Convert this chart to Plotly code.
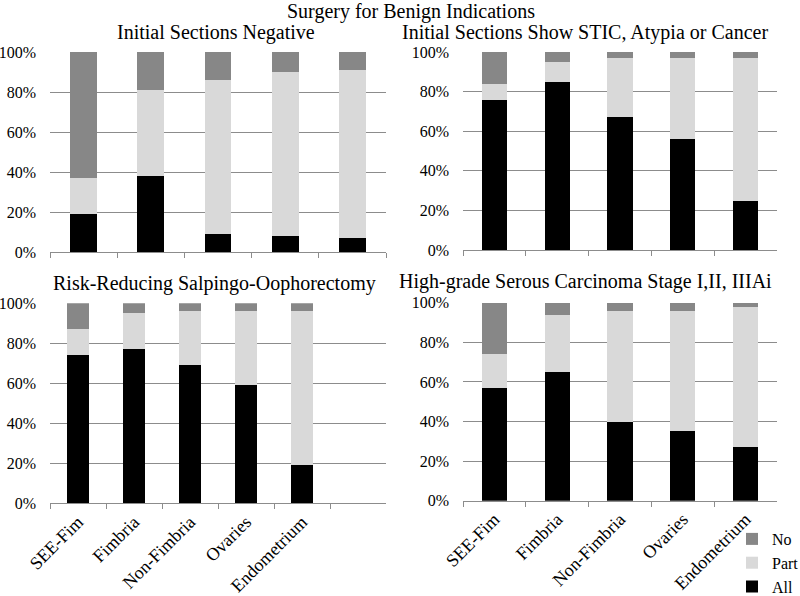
import plotly.graph_objects as go

categories = ["SEE-Fim", "Fimbria", "Non-Fimbria", "Ovaries", "Endometrium"]

main_title = "Surgery for Benign Indications"
panel_titles = [
    "Initial Sections Negative",
    "Initial Sections Show STIC, Atypia or Cancer",
    "Risk-Reducing Salpingo-Oophorectomy",
    "High-grade Serous Carcinoma Stage I,II, IIIAi",
]

# Percent of cases: All / Part / No
neg_all = [19, 38, 9, 8, 7]
neg_part = [18, 43, 77, 82, 84]
neg_no = [63, 19, 14, 10, 9]

stic_all = [76, 85, 67, 56, 25]
stic_part = [8, 10, 30, 41, 72]
stic_no = [16, 5, 3, 3, 3]

rrso_all = [74, 77, 69, 59, 19]
rrso_part = [13, 18, 27, 37, 77]
rrso_no = [13, 5, 4, 4, 4]

hgsc_all = [57, 65, 40, 35, 27]
hgsc_part = [17, 29, 56, 61, 71]
hgsc_no = [26, 6, 4, 4, 2]

y_ticks = [0, 20, 40, 60, 80, 100]
y_tick_labels = ["0%", "20%", "40%", "60%", "80%", "100%"]

colors = {"All": "#000000", "Part": "#d9d9d9", "No": "#878787"}
FONT = "Liberation Serif, Times New Roman, serif"
W, H = 800, 596

panels = [
    (neg_all, neg_part, neg_no),
    (stic_all, stic_part, stic_no),
    (rrso_all, rrso_part, rrso_no),
    (hgsc_all, hgsc_part, hgsc_no),
]

# pixel boxes: (x0, x1, ytop, ybottom)
boxes = [
    (50, 386, 52, 252),
    (463, 777, 52, 250),
    (50, 386, 303.3, 503.3),
    (463, 777, 302.7, 500.7),
]
title_pos = [(216, 33), (585, 33), (214, 283), (585, 281)]

fig = go.Figure()
for i, (a, p, n) in enumerate(panels):
    sfx = "" if i == 0 else str(i + 1)
    for name, vals in (("All", a), ("Part", p), ("No", n)):
        fig.add_trace(go.Bar(
            x=categories, y=vals, name=name,
            marker=dict(color=colors[name], line=dict(width=0)),
            xaxis="x" + sfx, yaxis="y" + sfx,
            legendgroup=name, showlegend=(i == 0),
        ))

layout = dict(
    width=W, height=H, autosize=False,
    margin=dict(l=0, r=0, t=0, b=0, autoexpand=False),
    barmode="stack", bargap=0.6,
    plot_bgcolor="white", paper_bgcolor="white",
    font=dict(family=FONT, size=16, color="#000000"),
    legend=dict(x=732 / W, y=1 - 522 / H, xanchor="left", yanchor="top",
                xref="container", yref="container",
                traceorder="reversed", font=dict(family=FONT, size=16),
                bgcolor="rgba(0,0,0,0)", tracegroupgap=0),
    annotations=[],
)

for i, (x0, x1, yt, yb) in enumerate(boxes):
    sfx = "" if i == 0 else str(i + 1)
    bottom = i >= 2
    xrange = [-0.5, 5.5] if i == 2 else [-0.5, 4.5]
    layout["xaxis" + sfx] = dict(
        domain=[x0 / W, x1 / W], anchor="y" + sfx,
        type="category", categoryorder="array", categoryarray=categories,
        range=xrange, showline=True, linecolor="#8c8c8c", linewidth=1,
        ticks="outside", tickson="boundaries", ticklen=5, tickcolor="#8c8c8c",
        showgrid=False, showticklabels=bottom, tickangle=-45,
        tickfont=dict(family=FONT, size=18), automargin=False, fixedrange=True,
    )
    layout["yaxis" + sfx] = dict(
        domain=[1 - yb / H, 1 - yt / H], anchor="x" + sfx,
        range=[0, 100], tickvals=y_ticks, ticktext=y_tick_labels,
        showgrid=True, gridcolor="#8c8c8c", gridwidth=1, zeroline=False,
        showline=False, ticks="", ticklabelstandoff=13,
        tickfont=dict(family=FONT, size=16), automargin=False, fixedrange=True,
    )
    tx, ty = title_pos[i]
    layout["annotations"].append(dict(
        text=panel_titles[i], x=tx / W, y=1 - ty / H, xref="paper", yref="paper",
        xanchor="center", yanchor="middle", showarrow=False,
        font=dict(family=FONT, size=20),
    ))

layout["annotations"].append(dict(
    text=main_title, x=411 / W, y=1 - 12 / H, xref="paper", yref="paper",
    xanchor="center", yanchor="middle", showarrow=False,
    font=dict(family=FONT, size=20),
))

fig.update_layout(**layout)
fig.write_html(
    "out.html",
    config={"displayModeBar": False},
    post_script="document.body.style.margin='0';document.body.style.overflow='hidden';",
)
